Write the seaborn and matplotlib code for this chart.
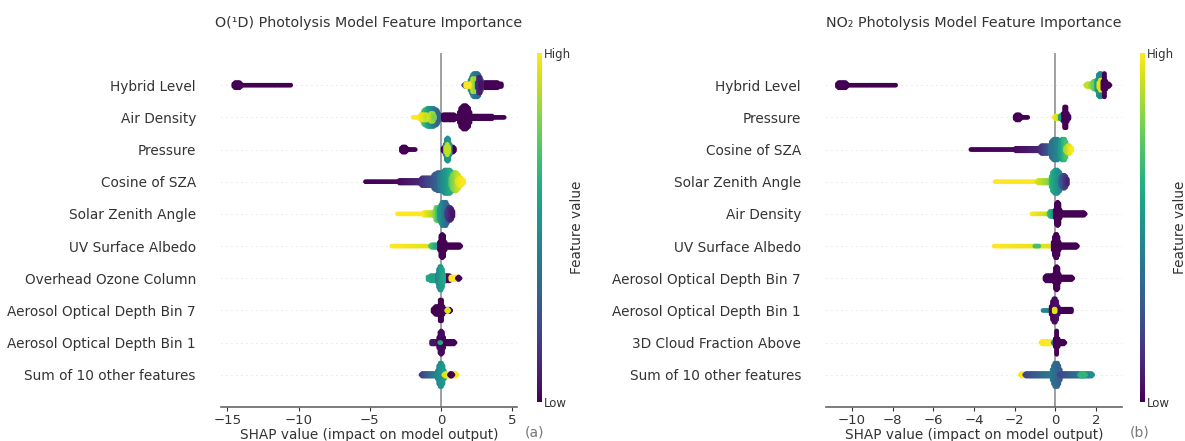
import numpy as np
import pandas as pd
import matplotlib
matplotlib.use("Agg")
import matplotlib.pyplot as plt
import seaborn as sns
from matplotlib.cm import ScalarMappable
from matplotlib.colors import Normalize

sns.set_theme(style="white")
plt.rcParams["font.family"] = ["DejaVu Sans"]

# Features, most important first
o1d_features = ["Hybrid Level", "Air Density", "Pressure", "Cosine of SZA",
                "Solar Zenith Angle", "UV Surface Albedo", "Overhead Ozone Column",
                "Aerosol Optical Depth Bin 7", "Aerosol Optical Depth Bin 1",
                "Sum of 10 other features"]
no2_features = ["Hybrid Level", "Pressure", "Cosine of SZA", "Solar Zenith Angle",
                "Air Density", "UV Surface Albedo", "Aerosol Optical Depth Bin 7",
                "Aerosol Optical Depth Bin 1", "3D Cloud Fraction Above",
                "Sum of 10 other features"]
o1d_xticks = [-15, -10, -5, 0, 5]
no2_xticks = [-10, -8, -6, -4, -2, 0, 2]
o1d_xlim = (-15.45, 5.35)
no2_xlim = (-11.28, 3.29)

# Swarm spans: (feature, SHAP from, SHAP to, swarm half-height in rows,
#               feature value at start, feature value at end)
o1d_spans = [
    ("Hybrid Level", -14.55, -14.05, 0.09, 0.0, 0.0),
    ("Hybrid Level", -14.4, -10.55, 0.0, 0.0, 0.0),
    ("Hybrid Level", 2.6, 4.25, 0.08, 0.0, 0.0),
    ("Hybrid Level", 1.6, 2.1, 0.04, 0.2, 0.9),
    ("Hybrid Level", 2.05, 2.85, 0.37, 0.5, 0.3),
    ("Hybrid Level", 2.15, 2.5, 0.22, 0.95, 0.8),
    ("Hybrid Level", 2.55, 2.85, 0.25, 0.15, 0.05),
    ("Hybrid Level", 1.75, 2.0, 0.06, 1.0, 1.0),

    ("Air Density", -1.95, -0.9, 0.0, 1.0, 1.0),
    ("Air Density", -0.2, 1.3, 0.07, 0.0, 0.0),
    ("Air Density", 1.3, 2.05, 0.38, 0.0, 0.0),
    ("Air Density", 2.0, 3.6, 0.06, 0.0, 0.0),
    ("Air Density", 3.4, 4.45, 0.02, 0.0, 0.0),
    ("Air Density", -1.3, -0.15, 0.3, 0.75, 0.3),
    ("Air Density", -1.5, -0.9, 0.1, 1.0, 0.9),
    ("Air Density", -0.8, -0.45, 0.12, 0.95, 0.8),

    ("Pressure", -2.78, -2.4, 0.08, 0.0, 0.0),
    ("Pressure", -2.7, -1.8, 0.0, 0.0, 0.0),
    ("Pressure", 0.15, 0.95, 0.1, 0.0, 0.0),
    ("Pressure", 0.3, 0.65, 0.37, 0.45, 0.55),
    ("Pressure", 0.35, 0.55, 0.18, 0.9, 0.9),

    ("Cosine of SZA", -5.3, -3.0, 0.0, 0.0, 0.02),
    ("Cosine of SZA", -3.0, -1.5, 0.05, 0.02, 0.1),
    ("Cosine of SZA", -1.5, -0.5, 0.13, 0.1, 0.25),
    ("Cosine of SZA", -0.6, 0.3, 0.28, 0.25, 0.4),
    ("Cosine of SZA", -0.1, 1.0, 0.37, 0.4, 0.7),
    ("Cosine of SZA", 0.7, 1.35, 0.28, 0.75, 0.95),
    ("Cosine of SZA", 1.15, 1.6, 0.12, 0.95, 1.0),

    ("Solar Zenith Angle", -3.05, -1.2, 0.0, 1.0, 1.0),
    ("Solar Zenith Angle", -1.2, -0.4, 0.06, 1.0, 0.85),
    ("Solar Zenith Angle", -0.45, 0.05, 0.22, 0.85, 0.55),
    ("Solar Zenith Angle", -0.1, 0.55, 0.38, 0.55, 0.3),
    ("Solar Zenith Angle", 0.4, 0.85, 0.2, 0.2, 0.05),

    ("UV Surface Albedo", -3.45, -0.6, 0.0, 1.0, 0.95),
    ("UV Surface Albedo", -0.75, -0.1, 0.03, 0.75, 0.55),
    ("UV Surface Albedo", -0.1, 0.3, 0.35, 0.0, 0.0),
    ("UV Surface Albedo", 0.0, 1.4, 0.05, 0.0, 0.0),

    ("Overhead Ozone Column", -0.9, -0.15, 0.08, 0.6, 0.55),
    ("Overhead Ozone Column", 0.15, 0.7, 0.08, 0.03, 0.03),
    ("Overhead Ozone Column", -0.25, 0.2, 0.36, 0.45, 0.6),
    ("Overhead Ozone Column", 0.7, 1.25, 0.06, 1.0, 1.0),
    ("Overhead Ozone Column", 1.15, 1.35, 0.04, 0.0, 0.0),

    ("Aerosol Optical Depth Bin 7", -0.55, 0.0, 0.12, 0.0, 0.0),
    ("Aerosol Optical Depth Bin 7", -0.15, 0.15, 0.35, 0.0, 0.0),
    ("Aerosol Optical Depth Bin 7", 0.0, 0.7, 0.04, 0.0, 0.0),
    ("Aerosol Optical Depth Bin 7", 0.4, 0.55, 0.03, 0.95, 0.95),

    ("Aerosol Optical Depth Bin 1", -0.65, 0.0, 0.06, 0.05, 0.05),
    ("Aerosol Optical Depth Bin 1", -0.15, 0.2, 0.37, 0.02, 0.02),
    ("Aerosol Optical Depth Bin 1", 0.0, 1.0, 0.04, 0.0, 0.0),
    ("Aerosol Optical Depth Bin 1", -0.08, 0.0, 0.04, 0.6, 0.6),

    ("Sum of 10 other features", -1.4, -0.3, 0.05, 0.15, 0.45),
    ("Sum of 10 other features", -0.25, 0.25, 0.35, 0.45, 0.55),
    ("Sum of 10 other features", 0.2, 1.15, 0.05, 0.95, 1.0),
    ("Sum of 10 other features", 0.6, 0.85, 0.05, 0.0, 0.0),
]

no2_spans = [
    ("Hybrid Level", -10.72, -10.25, 0.09, 0.0, 0.0),
    ("Hybrid Level", -10.6, -7.85, 0.0, 0.0, 0.0),
    ("Hybrid Level", 1.5, 1.8, 0.03, 0.9, 0.9),
    ("Hybrid Level", 1.75, 2.1, 0.12, 0.85, 0.7),
    ("Hybrid Level", 2.05, 2.4, 0.37, 0.55, 0.4),
    ("Hybrid Level", 2.15, 2.3, 0.18, 0.95, 0.95),
    ("Hybrid Level", 2.35, 2.5, 0.36, 0.0, 0.0),
    ("Hybrid Level", 2.4, 2.7, 0.04, 0.0, 0.0),

    ("Pressure", -1.97, -1.7, 0.08, 0.0, 0.0),
    ("Pressure", -1.9, -1.35, 0.0, 0.0, 0.0),
    ("Pressure", -0.05, 0.35, 0.04, 1.0, 0.85),
    ("Pressure", 0.25, 0.4, 0.08, 0.55, 0.55),
    ("Pressure", 0.4, 0.6, 0.36, 0.0, 0.0),
    ("Pressure", 0.4, 0.68, 0.06, 0.0, 0.0),

    ("Cosine of SZA", -4.15, -2.0, 0.0, 0.0, 0.02),
    ("Cosine of SZA", -2.0, -0.8, 0.04, 0.02, 0.1),
    ("Cosine of SZA", -0.8, -0.2, 0.13, 0.1, 0.3),
    ("Cosine of SZA", -0.25, 0.3, 0.32, 0.35, 0.5),
    ("Cosine of SZA", 0.2, 0.6, 0.32, 0.5, 0.75),
    ("Cosine of SZA", 0.5, 0.82, 0.12, 0.85, 1.0),

    ("Solar Zenith Angle", -2.95, -0.9, 0.0, 1.0, 1.0),
    ("Solar Zenith Angle", -0.9, -0.2, 0.05, 0.95, 0.8),
    ("Solar Zenith Angle", -0.2, 0.3, 0.37, 0.65, 0.45),
    ("Solar Zenith Angle", 0.25, 0.6, 0.2, 0.35, 0.1),

    ("Air Density", -1.15, -0.3, 0.02, 1.0, 0.9),
    ("Air Density", -0.3, 0.0, 0.08, 0.7, 0.5),
    ("Air Density", 0.0, 0.25, 0.36, 0.0, 0.0),
    ("Air Density", 0.0, 1.48, 0.05, 0.0, 0.0),

    ("UV Surface Albedo", -3.0, -0.2, 0.0, 1.0, 0.95),
    ("UV Surface Albedo", -1.0, -0.8, 0.0, 0.7, 0.7),
    ("UV Surface Albedo", -0.1, 0.2, 0.35, 0.0, 0.0),
    ("UV Surface Albedo", 0.0, 1.1, 0.05, 0.0, 0.0),

    ("Aerosol Optical Depth Bin 7", -0.5, -0.05, 0.1, 0.0, 0.0),
    ("Aerosol Optical Depth Bin 7", -0.05, 0.2, 0.36, 0.0, 0.0),
    ("Aerosol Optical Depth Bin 7", 0.0, 0.87, 0.05, 0.0, 0.0),

    ("Aerosol Optical Depth Bin 1", -0.6, -0.25, 0.02, 0.45, 0.45),
    ("Aerosol Optical Depth Bin 1", -0.2, 0.15, 0.35, 0.0, 0.05),
    ("Aerosol Optical Depth Bin 1", 0.0, 0.8, 0.06, 0.0, 0.0),
    ("Aerosol Optical Depth Bin 1", -0.05, 0.0, 0.06, 0.95, 0.95),

    ("3D Cloud Fraction Above", -0.7, -0.15, 0.03, 1.0, 1.0),
    ("3D Cloud Fraction Above", -0.1, 0.0, 0.05, 0.45, 0.45),
    ("3D Cloud Fraction Above", 0.0, 0.15, 0.35, 0.0, 0.0),
    ("3D Cloud Fraction Above", 0.0, 0.48, 0.05, 0.0, 0.0),

    ("Sum of 10 other features", -1.72, -1.5, 0.04, 1.0, 1.0),
    ("Sum of 10 other features", -1.5, -0.2, 0.05, 0.2, 0.4),
    ("Sum of 10 other features", -0.15, 0.25, 0.37, 0.4, 0.3),
    ("Sum of 10 other features", 0.2, 1.85, 0.05, 0.2, 0.5),
    ("Sum of 10 other features", 1.2, 1.5, 0.05, 0.65, 0.65),
]

W, H, DPI = 11.85, 4.41, 100
fig = plt.figure(figsize=(W, H), dpi=DPI)
AXIS_COLOR = "#333333"


def swarm_frame(spans, features, xlim, ax_px_w, ax_px_h, nrows):
    """Lay out the dots of each span as a beeswarm band around its row."""
    px_per_x = ax_px_w / (xlim[1] - xlim[0])
    px_per_row = ax_px_h / (nrows + 1)
    step_px = 1.3
    dx = step_px / px_per_x
    dy = step_px / px_per_row
    xs, ys, vs = [], [], []
    for feat, x0, x1, spread, v0, v1 in spans:
        row = nrows - 1 - features.index(feat)
        ncol = max(int(round((x1 - x0) / dx)), 0) + 1
        cols = np.linspace(x0, x1, ncol)
        xc, hw = 0.5 * (x0 + x1), max(0.5 * (x1 - x0), 1e-9)
        for x in cols:
            t = (x - xc) / hw
            env = np.sqrt(max(1.0 - 0.85 * t * t, 0.0))
            nk = int(round(spread * env / dy))
            frac = 0.0 if x1 == x0 else (x - x0) / (x1 - x0)
            val = v0 + (v1 - v0) * frac
            for k in range(-nk, nk + 1):
                xs.append(x)
                ys.append(row + k * dy)
                vs.append(val)
    return pd.DataFrame({"shap": xs, "row": ys, "value": vs})


def draw_panel(rect, cbar_rect, features, spans, xlim, xticks, title, tag, tag_x):
    ax = fig.add_axes(rect)
    n = len(features)
    ax_px_w = rect[2] * W * DPI
    ax_px_h = rect[3] * H * DPI
    df = swarm_frame(spans, features, xlim, ax_px_w, ax_px_h, n)

    ax.axvline(0, color="#999999", lw=1.3, zorder=-1)
    for i in range(n):
        ax.axhline(i, color="#cccccc", lw=0.6, dashes=(1, 5), zorder=-2)

    sns.scatterplot(data=df, x="shap", y="row", hue="value", palette="viridis",
                    hue_norm=(0, 1), s=11, linewidth=0, legend=False, ax=ax,
                    rasterized=True, zorder=3)

    ax.set_xlim(*xlim)
    ax.set_ylim(-1, n)
    ax.set_yticks(range(n))
    ax.set_yticklabels(features[::-1])
    ax.set_xticks(xticks)
    ax.set_xticklabels([f"{t}".replace("-", "\u2212") for t in xticks])
    ax.tick_params(axis="y", length=0, pad=18, labelsize=9.85, labelcolor=AXIS_COLOR)
    ax.tick_params(axis="x", length=3, width=0.8, color=AXIS_COLOR, labelsize=9.5,
                   labelcolor=AXIS_COLOR, pad=2, bottom=True)
    for side in ("top", "right", "left"):
        ax.spines[side].set_visible(False)
    ax.spines["bottom"].set_color("#666666")
    ax.spines["bottom"].set_linewidth(1.2)
    ax.set_xlabel("SHAP value (impact on model output)", fontsize=9.8,
                  color=AXIS_COLOR, labelpad=1)
    ax.set_ylabel("")
    ax.set_title(title, fontsize=10.3, color=AXIS_COLOR, pad=19)
    ax.grid(False)

    cax = fig.add_axes(cbar_rect)
    sm = ScalarMappable(norm=Normalize(0, 1), cmap="viridis")
    cb = fig.colorbar(sm, cax=cax, ticks=[0, 1])
    cb.set_ticklabels(["Low", "High"])
    cb.ax.tick_params(labelsize=8.5, length=0, pad=2, labelcolor=AXIS_COLOR)
    cb.outline.set_visible(False)
    cb.set_label("Feature value", size=9.8, color=AXIS_COLOR, labelpad=-1)

    fig.text(tag_x, 1 - 433 / 441, tag, fontsize=10, color="#777777",
             ha="center", va="center")
    return ax


ybot = 1 - 407 / 441
yh = (407 - 53) / 441
cb_bot = 1 - 402 / 441
cb_h = (402 - 53) / 441

draw_panel([221 / 1185, ybot, 296 / 1185, yh], [537 / 1185, cb_bot, 4.5 / 1185, cb_h],
           o1d_features, o1d_spans, o1d_xlim, o1d_xticks,
           "O(\u00b9D) Photolysis Model Feature Importance", "(a)", 535 / 1185)
draw_panel([826 / 1185, ybot, 296 / 1185, yh], [1140 / 1185, cb_bot, 4.5 / 1185, cb_h],
           no2_features, no2_spans, no2_xlim, no2_xticks,
           "NO\u2082 Photolysis Model Feature Importance", "(b)", 1140 / 1185)

fig.savefig("out.png", dpi=DPI)
